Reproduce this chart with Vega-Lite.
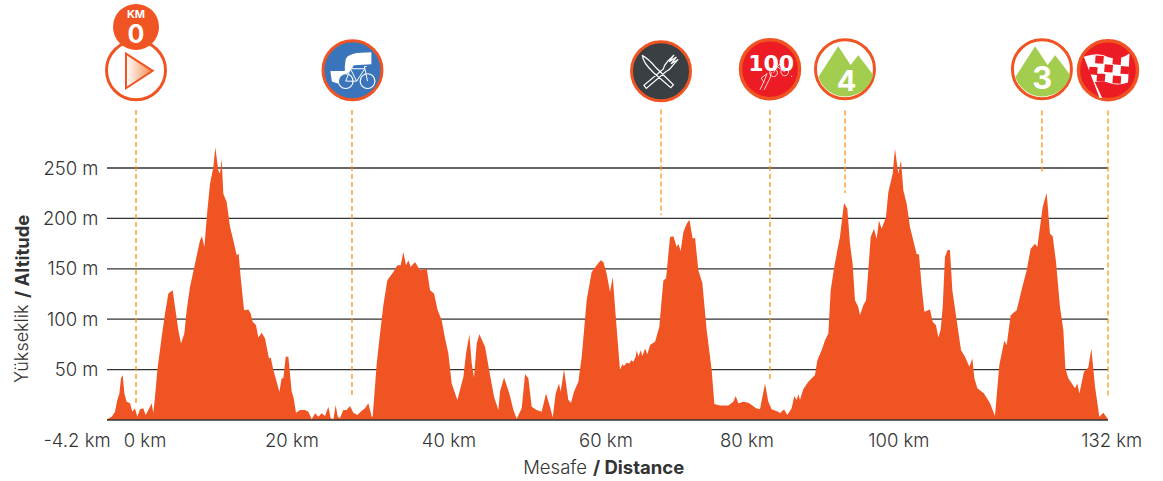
{"$schema":"https://vega.github.io/schema/vega-lite/v6.json","width":1001,"height":420,"autosize":"none","padding":{"left":107,"right":55,"top":0,"bottom":61},"background":"white","view":{"stroke":null},
"config":{"text":{"font":"Inter"},"axis":{"labelFont":"Inter"}},
"datasets":{
"profile":[{"km":-3.94,"alt":0.7},{"km":-3.3,"alt":3.3},{"km":-2.85,"alt":8.3},{"km":-2.54,"alt":19.8},{"km":-2.26,"alt":26.4},{"km":-2.04,"alt":41.3},{"km":-1.81,"alt":44.6},{"km":-1.58,"alt":26.4},{"km":-1.27,"alt":18.2},{"km":-0.81,"alt":16.5},{"km":-0.5,"alt":8.3},{"km":-0.14,"alt":11.6},{"km":0.18,"alt":3.3},{"km":0.54,"alt":10.6},{"km":0.99,"alt":11.6},{"km":1.31,"alt":5},{"km":1.9,"alt":13.2},{"km":2.13,"alt":16.5},{"km":2.35,"alt":6.6},{"km":2.58,"alt":23.1},{"km":2.9,"alt":49.5},{"km":3.49,"alt":82.5},{"km":3.94,"alt":105.6},{"km":4.39,"alt":125.4},{"km":4.98,"alt":128.7},{"km":5.3,"alt":112.2},{"km":5.75,"alt":89.1},{"km":6.11,"alt":75.9},{"km":6.56,"alt":85.8},{"km":6.88,"alt":108.9},{"km":7.33,"alt":132},{"km":8.01,"alt":155.1},{"km":8.69,"alt":178.2},{"km":8.96,"alt":182.2},{"km":9.28,"alt":171.6},{"km":9.69,"alt":207.9},{"km":10.05,"alt":234.3},{"km":10.5,"alt":250.8},{"km":10.77,"alt":270.6},{"km":11.18,"alt":247.5},{"km":11.41,"alt":244.2},{"km":11.63,"alt":259.1},{"km":11.86,"alt":224.4},{"km":12.31,"alt":216.2},{"km":12.77,"alt":191.4},{"km":13.22,"alt":178.2},{"km":13.67,"alt":163.4},{"km":13.94,"alt":165},{"km":14.21,"alt":141.9},{"km":14.67,"alt":108.9},{"km":15.26,"alt":109.6},{"km":15.57,"alt":105.6},{"km":15.84,"alt":97.4},{"km":16.3,"alt":94.1},{"km":16.61,"alt":81.8},{"km":17.07,"alt":86.5},{"km":17.52,"alt":80.9},{"km":18.06,"alt":61.1},{"km":18.29,"alt":62},{"km":18.65,"alt":49.5},{"km":19.1,"alt":38},{"km":19.47,"alt":28.1},{"km":19.78,"alt":41.3},{"km":20.01,"alt":41.3},{"km":20.33,"alt":62.7},{"km":20.69,"alt":62.7},{"km":21.14,"alt":28.1},{"km":21.37,"alt":23.1},{"km":21.73,"alt":7.3},{"km":22.27,"alt":9.9},{"km":22.95,"alt":9.9},{"km":23.4,"alt":8.3},{"km":23.86,"alt":0.7},{"km":24.31,"alt":6.6},{"km":24.76,"alt":3.3},{"km":25.21,"alt":6.6},{"km":25.67,"alt":4},{"km":26.12,"alt":13.2},{"km":26.44,"alt":1.7},{"km":26.8,"alt":0.7},{"km":27.12,"alt":14.9},{"km":27.39,"alt":3.3},{"km":27.7,"alt":1.7},{"km":28.16,"alt":9.9},{"km":28.61,"alt":9.9},{"km":29.06,"alt":13.9},{"km":29.52,"alt":7.3},{"km":30.06,"alt":5},{"km":30.65,"alt":9.2},{"km":31.1,"alt":11.6},{"km":31.55,"alt":16.5},{"km":32.01,"alt":3.3},{"km":32.14,"alt":3.3},{"km":32.69,"alt":56.1},{"km":33.14,"alt":85.8},{"km":33.59,"alt":113.9},{"km":34.13,"alt":138.6},{"km":34.95,"alt":146.9},{"km":35.49,"alt":153.5},{"km":35.94,"alt":153.5},{"km":36.31,"alt":166.7},{"km":36.67,"alt":153.5},{"km":36.99,"alt":158.4},{"km":37.3,"alt":151.8},{"km":37.89,"alt":156.8},{"km":38.57,"alt":148.5},{"km":39.48,"alt":150.2},{"km":39.93,"alt":128.7},{"km":40.47,"alt":125.4},{"km":40.97,"alt":108.9},{"km":41.51,"alt":99},{"km":41.97,"alt":80.9},{"km":42.42,"alt":66},{"km":42.87,"alt":36.3},{"km":43.64,"alt":19.8},{"km":44.46,"alt":42.9},{"km":44.82,"alt":66},{"km":45.27,"alt":85.1},{"km":45.59,"alt":56.1},{"km":45.9,"alt":42.2},{"km":46.27,"alt":75.9},{"km":46.63,"alt":85.1},{"km":47.4,"alt":72.6},{"km":48.08,"alt":44.6},{"km":48.62,"alt":23.1},{"km":49.21,"alt":9.9},{"km":49.43,"alt":28.1},{"km":49.98,"alt":42.2},{"km":50.7,"alt":26.4},{"km":51.25,"alt":9.9},{"km":51.7,"alt":1.3},{"km":52.38,"alt":11.6},{"km":52.83,"alt":45.5},{"km":53.28,"alt":41.3},{"km":53.74,"alt":13.2},{"km":54.41,"alt":9.9},{"km":55.09,"alt":8.3},{"km":55.68,"alt":26.4},{"km":56.22,"alt":13.2},{"km":56.59,"alt":2.6},{"km":56.99,"alt":26.4},{"km":57.45,"alt":36.3},{"km":57.67,"alt":28.1},{"km":58.13,"alt":50.2},{"km":58.71,"alt":19.8},{"km":59.08,"alt":17.2},{"km":59.48,"alt":28.1},{"km":60.07,"alt":38},{"km":60.53,"alt":62.7},{"km":61.2,"alt":118.8},{"km":61.88,"alt":146.9},{"km":62.56,"alt":153.5},{"km":63.11,"alt":158.4},{"km":63.47,"alt":156.8},{"km":63.92,"alt":145.2},{"km":64.37,"alt":127.1},{"km":64.74,"alt":141.9},{"km":65.05,"alt":112.2},{"km":65.73,"alt":49.5},{"km":66.05,"alt":55.4},{"km":66.27,"alt":53.5},{"km":66.64,"alt":56.8},{"km":67,"alt":56.1},{"km":67.23,"alt":59.4},{"km":67.54,"alt":57.8},{"km":67.86,"alt":62.7},{"km":68,"alt":69.3},{"km":68.22,"alt":62.7},{"km":68.54,"alt":69.3},{"km":68.77,"alt":63.4},{"km":69.13,"alt":70.9},{"km":69.44,"alt":65.3},{"km":69.81,"alt":74.3},{"km":70.49,"alt":77.6},{"km":71.07,"alt":92.4},{"km":71.62,"alt":138.6},{"km":71.98,"alt":140.3},{"km":72.52,"alt":181.5},{"km":72.98,"alt":182.2},{"km":73.43,"alt":171.6},{"km":73.65,"alt":174.9},{"km":73.97,"alt":167.7},{"km":74.33,"alt":186.5},{"km":74.79,"alt":194.7},{"km":75.15,"alt":198.7},{"km":75.6,"alt":179.9},{"km":75.92,"alt":180.9},{"km":76.37,"alt":148.5},{"km":76.91,"alt":136},{"km":77.5,"alt":89.1},{"km":78.18,"alt":49.5},{"km":78.54,"alt":15.8},{"km":79.31,"alt":14.5},{"km":80.44,"alt":14.5},{"km":81.12,"alt":18.2},{"km":81.44,"alt":23.8},{"km":81.8,"alt":16.5},{"km":82.48,"alt":18.2},{"km":83.16,"alt":17.2},{"km":83.61,"alt":14.9},{"km":84.2,"alt":11.6},{"km":84.74,"alt":10.6},{"km":85.42,"alt":36.3},{"km":85.87,"alt":18.2},{"km":86.32,"alt":10.6},{"km":87.23,"alt":8.3},{"km":87.46,"alt":6.6},{"km":88,"alt":10.6},{"km":88.45,"alt":5},{"km":89.04,"alt":11.6},{"km":89.4,"alt":23.8},{"km":89.72,"alt":19.8},{"km":89.95,"alt":25.7},{"km":90.17,"alt":19.8},{"km":90.62,"alt":30.4},{"km":91.3,"alt":38},{"km":92.21,"alt":44.6},{"km":92.53,"alt":59.4},{"km":93.11,"alt":69.3},{"km":93.57,"alt":79.2},{"km":94.02,"alt":85.8},{"km":94.34,"alt":128.7},{"km":94.79,"alt":150.2},{"km":95.24,"alt":168.3},{"km":95.6,"alt":181.5},{"km":96.15,"alt":215.2},{"km":96.6,"alt":209.6},{"km":96.96,"alt":174.9},{"km":97.32,"alt":155.1},{"km":97.64,"alt":118.8},{"km":98.09,"alt":112.2},{"km":98.32,"alt":104},{"km":98.77,"alt":113.9},{"km":99.14,"alt":118.8},{"km":99.45,"alt":148.5},{"km":99.77,"alt":181.5},{"km":100.22,"alt":189.8},{"km":100.58,"alt":179.9},{"km":100.9,"alt":198},{"km":101.26,"alt":189.8},{"km":101.85,"alt":201.3},{"km":102.17,"alt":226.1},{"km":102.76,"alt":244.2},{"km":103.07,"alt":269},{"km":103.53,"alt":244.2},{"km":103.89,"alt":257.4},{"km":104.21,"alt":227.7},{"km":104.66,"alt":214.5},{"km":105.11,"alt":191.4},{"km":105.56,"alt":178.2},{"km":106.02,"alt":164.4},{"km":106.33,"alt":164.4},{"km":106.7,"alt":132},{"km":107.06,"alt":107.3},{"km":107.83,"alt":109.6},{"km":108.19,"alt":97.4},{"km":108.64,"alt":94.1},{"km":108.96,"alt":81.8},{"km":109.28,"alt":89.8},{"km":109.55,"alt":112.2},{"km":109.86,"alt":161.7},{"km":110.23,"alt":169},{"km":110.54,"alt":168.3},{"km":110.86,"alt":128.7},{"km":111.45,"alt":99},{"km":112.04,"alt":69.3},{"km":112.58,"alt":62.7},{"km":113.17,"alt":52.8},{"km":113.58,"alt":61.1},{"km":113.85,"alt":41.3},{"km":114.26,"alt":31.4},{"km":115.16,"alt":26.4},{"km":115.98,"alt":16.5},{"km":116.65,"alt":4},{"km":117.24,"alt":54.5},{"km":117.92,"alt":78.5},{"km":118.24,"alt":74.3},{"km":118.78,"alt":104},{"km":119.6,"alt":108.9},{"km":120.28,"alt":129.4},{"km":120.96,"alt":148.5},{"km":121.5,"alt":170},{"km":122.09,"alt":174.9},{"km":122.4,"alt":171.6},{"km":123.13,"alt":211.2},{"km":123.67,"alt":225.1},{"km":124.12,"alt":184.8},{"km":124.49,"alt":182.2},{"km":124.94,"alt":156.8},{"km":125.48,"alt":112.2},{"km":125.94,"alt":89.1},{"km":126.21,"alt":51.2},{"km":126.61,"alt":41.3},{"km":127.52,"alt":31.4},{"km":127.83,"alt":36.3},{"km":128.11,"alt":26.4},{"km":128.74,"alt":47.9},{"km":129.33,"alt":52.1},{"km":129.74,"alt":71},{"km":130.24,"alt":33},{"km":130.82,"alt":3.3},{"km":131.37,"alt":7.3},{"km":132,"alt":0.7}],
"grid":[{"alt":50,"km":-3.94,"km2":132},{"alt":100,"km":-3.94,"km2":132},{"alt":150,"km":-3.94,"km2":131.45},{"alt":200,"km":-3.94,"km2":132},{"alt":250,"km":-3.94,"km2":132}],
"markers":[{"name":"start","km":0,"alt":307.5,"alt2":16.9},{"name":"bike","km":29.33,"alt":307.5,"alt2":21.8},{"name":"food","km":71.3,"alt":308,"alt2":203.4},{"name":"100","km":86.1,"alt":307.5,"alt2":39.7},{"name":"cat4","km":96.28,"alt":307,"alt2":225.2},{"name":"cat3","km":123.03,"alt":307,"alt2":246},{"name":"finish","km":132,"alt":307,"alt2":21.8}],
"icons":[{"name":"start","km":0,"alt":347},{"name":"bike","km":29.4,"alt":347},{"name":"food","km":71.3,"alt":346},{"name":"100","km":86.1,"alt":348},{"name":"cat4","km":96.28,"alt":348},{"name":"cat3","km":123.03,"alt":348},{"name":"finish","km":132,"alt":347}]
},
"encoding":{"x":{"field":"km","type":"quantitative","scale":{"domain":[-3.94,132],"nice":false,"zero":false},"axis":null},
"y":{"field":"alt","type":"quantitative","scale":{"domain":[0,416.67],"nice":false},"axis":{"values":[50,100,150,200,250],"labelExpr":"datum.value + ' m'","title":null,"domain":false,"ticks":false,"grid":false,"labelPadding":9,"labelFontSize":18.5,"labelFontWeight":300,"labelColor":"#333333"}}},
"layer":[
{"data":{"name":"grid"},"mark":{"type":"rule","color":"#333333","strokeWidth":1.3},"encoding":{"x2":{"field":"km2"}}},
{"data":{"name":"profile"},"mark":{"type":"area","color":"#f15423","line":false,"interpolate":"linear"}},
{"data":{"values":[{"alt":0,"km":-3.94,"km2":132}]},"mark":{"type":"rule","color":"#333333","strokeWidth":1.3},"encoding":{"x2":{"field":"km2"}}},
{"data":{"name":"markers"},"mark":{"type":"rule","color":"#f7941e","strokeWidth":1.3,"strokeDash":[5,3]},"encoding":{"y2":{"field":"alt2"}}},
{"data":{"name":"icons"},"transform":[{"filter":"indexof(['start','cat4','cat3'],datum.name)>=0"}],"mark":{"type":"point","shape":"circle","size":3481,"filled":true,"fill":"#ffffff","stroke":"#f15423","strokeWidth":3,"opacity":1}},
{"data":{"name":"icons"},"transform":[{"filter":"datum.name=='bike'"}],"mark":{"type":"point","shape":"circle","size":3481,"filled":true,"fill":"#3a74ba","stroke":"#f15423","strokeWidth":3,"opacity":1}},
{"data":{"name":"icons"},"transform":[{"filter":"datum.name=='food'"}],"mark":{"type":"point","shape":"circle","size":3481,"filled":true,"fill":"#3a3f44","stroke":"#f15423","strokeWidth":3,"opacity":1}},
{"data":{"name":"icons"},"transform":[{"filter":"datum.name=='100'||datum.name=='finish'"}],"mark":{"type":"point","shape":"circle","size":3481,"filled":true,"fill":"#ed1c24","stroke":"#f15423","strokeWidth":3.5,"opacity":1}},
{"data":{"name":"icons"},"transform":[{"filter":"datum.name=='start'"}],"mark":{"type":"point","shape":"M -.34 -.565 L .565 .02 L -.34 .61 Z","size":3481,"filled":true,"opacity":1,"stroke":"#f15423","strokeWidth":2,"fill":{"gradient":"linear","x1":0,"x2":1,"y1":0,"y2":0,"stops":[{"offset":0,"color":"#ffffff"},{"offset":1,"color":"#f58a4b"}]}}},
{"data":{"values":[{"km":0,"alt":390}]},"mark":{"type":"point","shape":"circle","size":2116,"filled":true,"color":"#f15423","opacity":1}},
{"data":{"values":[{"km":0,"alt":402,"t":"KM"}]},"mark":{"type":"text","fontSize":11,"fontWeight":700,"color":"#ffffff"},"encoding":{"text":{"field":"t"}}},
{"data":{"values":[{"km":0,"alt":382,"t":"0"}]},"mark":{"type":"text","fontSize":25,"fontWeight":700,"color":"#ffffff"},"encoding":{"text":{"field":"t"}}},
{"data":{"name":"icons"},"transform":[{"filter":"datum.name=='bike'"}],"mark":{"type":"point","shape":"M -.75 .03 L -.26 .03 L -.26 -.14 L -.23 -.38 Q -.15 -.53 .14 -.58 L .64 -.61 L .64 -.2 L .05 -.17 L -.1 .03 L -.5 .45 L -.7 .38 Z","size":3481,"filled":true,"fill":"#ffffff","opacity":1}},
{"data":{"name":"icons"},"transform":[{"filter":"datum.name=='bike'"}],"mark":{"type":"point","shape":"M -.48 .37 A .25 .25 0 1 0 .02 .37 A .25 .25 0 1 0 -.48 .37 Z M .26 .37 A .25 .25 0 1 0 .76 .37 A .25 .25 0 1 0 .26 .37 Z","size":3481,"filled":true,"fill":"#3a74ba","stroke":"#ffffff","strokeWidth":1.2,"opacity":1}},
{"data":{"name":"icons"},"transform":[{"filter":"datum.name=='bike'"}],"mark":{"type":"point","shape":"M -.23 .37 L -.07 -.05 L .42 -.05 L .14 .37 L -.23 .37 M -.07 -.05 L .14 .37 M .42 -.05 L .51 .37 M .42 -.05 L .4 -.12 L .48 -.13 M -.14 -.09 L 0 -.09","size":3481,"filled":false,"fill":null,"stroke":"#ffffff","strokeWidth":1,"opacity":1}},
{"data":{"name":"icons"},"transform":[{"filter":"datum.name=='food'"}],"mark":{"type":"point","shape":"M -.63 -.53 Q -.45 -.45 -.15 -.1 L .42 .46 L .33 .56 L -.25 .05 Q -.62 -.3 -.63 -.53 Z M -.5 .58 L -.58 .48 L .08 -.08 Q .1 -.2 .22 -.33 L .44 -.55 L .28 -.32 L .52 -.48 L .34 -.25 L .58 -.4 L .4 -.2 Q .3 -.05 .18 0 Z","size":3481,"filled":false,"fill":null,"stroke":"#ffffff","strokeWidth":1.2,"opacity":1}},
{"data":{"values":[{"km":86.25,"alt":353,"t":"100"}]},"mark":{"type":"text","fontSize":22,"fontWeight":800,"font":"DejaVu Sans","color":"#ffffff"},"encoding":{"text":{"field":"t"}}},
{"data":{"name":"icons"},"transform":[{"filter":"datum.name=='100'"}],"mark":{"type":"point","shape":"M -.01 .12 A .13 .13 0 1 0 .25 .12 A .13 .13 0 1 0 -.01 .12 Z M .37 .09 A .13 .13 0 1 0 .63 .09 A .13 .13 0 1 0 .37 .09 Z M .12 .12 L .25 -.08 L .5 .09 M -.34 .7 L -.2 .4 L -.1 .15 L -.3 .3 L -.2 .45 M -.2 .7 L 0 .3 L .05 .1 M .25 -.08 L .35 -.2 M .72 .22 L .74 .26","size":3481,"filled":false,"fill":null,"stroke":"#ffffff","strokeWidth":0.8,"opacity":1}},
{"data":{"name":"icons"},"transform":[{"filter":"datum.name=='cat4'||datum.name=='cat3'"}],"mark":{"type":"point","shape":"M -.9 .26 L -.23 -.78 L .19 -.14 L .45 -.47 L .96 .2 A .97 .97 0 0 1 -.9 .26 Z","size":3481,"filled":true,"fill":"#a2cd4f","opacity":1}},
{"data":{"values":[{"km":96.5,"alt":335,"t":"4"}]},"mark":{"type":"text","fontSize":29,"fontWeight":700,"color":"#ffffff"},"encoding":{"text":{"field":"t"}}},
{"data":{"values":[{"km":123.07,"alt":337,"t":"3"}]},"mark":{"type":"text","fontSize":31,"fontWeight":700,"color":"#ffffff"},"encoding":{"text":{"field":"t"}}},
{"data":{"name":"icons"},"transform":[{"filter":"datum.name=='finish'"}],"mark":{"type":"point","shape":"M -.82 -.46 L -.74 -.48 Q -.3 -.62 0 -.45 Q .35 -.32 .73 -.57 L .68 .42 Q .3 .55 0 .42 Q -.2 .35 -.45 .4 L -.2 .93 L -.28 .95 Z","size":3481,"filled":true,"fill":"#ffffff","opacity":1}},
{"data":{"name":"icons"},"transform":[{"filter":"datum.name=='finish'"}],"mark":{"type":"point","shape":"M -.42 -.5 L -.14 -.48 L -.16 -.22 L -.44 -.24 Z M .17 -.46 L .45 -.44 L .43 -.18 L .15 -.2 Z M -.63 -.12 L -.35 -.1 L -.37 .16 L -.65 .14 Z M -.11 -.2 L .17 -.18 L .15 .08 L -.13 .06 Z M .44 -.14 L .72 -.12 L .7 .14 L .42 .12 Z M -.37 .11 L -.09 .13 L -.11 .39 L -.39 .37 Z M .17 .18 L .45 .2 L .43 .46 L .15 .44 Z","size":3481,"filled":true,"fill":"#ed1c24","opacity":1}},
{"data":{"values":[{"km":-8.01,"alt":-20.6,"t":"-4.2 km"},{"km":1.22,"alt":-20.6,"t":"0 km"},{"km":21.18,"alt":-20.6,"t":"20 km"},{"km":42.5,"alt":-20.6,"t":"40 km"},{"km":63.82,"alt":-20.6,"t":"60 km"},{"km":82.97,"alt":-20.6,"t":"80 km"},{"km":103.6,"alt":-20.6,"t":"100 km"},{"km":132.5,"alt":-20.6,"t":"132 km"}]},"mark":{"type":"text","fontSize":18.5,"fontWeight":300,"color":"#333333"},"encoding":{"text":{"field":"t"}}},
{"data":{"values":[{"km":61.24,"alt":-47.6,"t":"Mesafe"}]},"mark":{"type":"text","align":"right","fontSize":18.5,"fontWeight":300,"color":"#333333"},"encoding":{"text":{"field":"t"}}},
{"data":{"values":[{"km":62.05,"alt":-47.6,"t":"/ Distance"}]},"mark":{"type":"text","align":"left","fontSize":18.5,"fontWeight":700,"color":"#333333"},"encoding":{"text":{"field":"t"}}},
{"data":{"values":[{"km":-15.35,"alt":36.7,"t":"Yükseklik"}]},"mark":{"type":"text","align":"left","angle":270,"fontSize":18,"fontWeight":300,"color":"#333333"},"encoding":{"text":{"field":"t"}}},
{"data":{"values":[{"km":-15.35,"alt":121,"t":"/ Altitude"}]},"mark":{"type":"text","align":"left","angle":270,"fontSize":18.5,"fontWeight":700,"color":"#333333"},"encoding":{"text":{"field":"t"}}}
]}
